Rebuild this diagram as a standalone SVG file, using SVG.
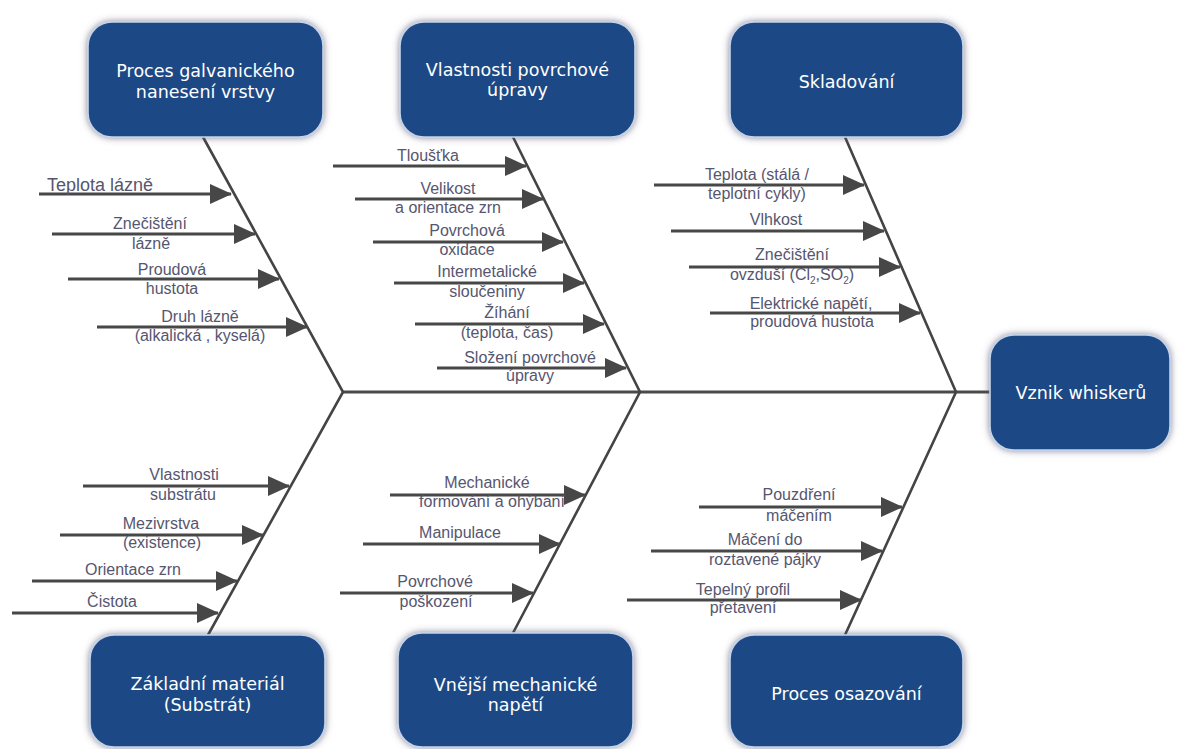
<svg xmlns="http://www.w3.org/2000/svg" width="1186" height="749" viewBox="0 0 1186 749">
<defs>
<style>
.box{fill:#1f4a85;stroke:#c2d3ea;stroke-width:1.6;filter:url(#sh)}
.bt{font-family:"DejaVu Sans",Verdana,sans-serif;font-size:17.5px;fill:#ffffff;text-anchor:middle}
.lbl{font-family:"Liberation Sans",Arial,sans-serif;font-size:16px;fill:#56566f;text-anchor:middle}
.big{font-size:18px;text-anchor:start}
.bone{stroke:#444444;stroke-width:2.6;fill:none}
.spine{stroke:#4a4a4a;stroke-width:3;fill:none}
.arr{stroke:#474747;stroke-width:3.2;fill:none;marker-end:url(#ah)}
</style>
<marker id="ah" viewBox="0 0 22 20" refX="21" refY="10" markerWidth="22" markerHeight="20" markerUnits="userSpaceOnUse" orient="auto">
<path d="M0,0 L22,10 L0,20 Z" fill="#474747"/>
</marker>
<filter id="sh" x="-20%" y="-20%" width="140%" height="140%">
<feGaussianBlur in="SourceAlpha" stdDeviation="3.5" result="b"/>
<feFlood flood-color="#5a5a78" flood-opacity="0.75"/>
<feComposite in2="b" operator="in" result="s"/>
<feMerge><feMergeNode in="s"/><feMergeNode in="SourceGraphic"/></feMerge>
</filter>
</defs>
<rect x="0" y="0" width="1186" height="749" fill="#ffffff"/>

<g id="connectors">
<line class="spine" x1="343" y1="392" x2="992" y2="392"/>
<path class="bone" d="M203,137 L343,392 L208,635"/>
<path class="bone" d="M513,137 L640,392 L513,633"/>
<path class="bone" d="M845,137 L956,392 L845,635"/>

<!-- rib 1 -->
<line class="arr" x1="39" y1="194" x2="231" y2="194"/>
<text class="lbl big" x="47" y="191">Teplota lázně</text>
<line class="arr" x1="52" y1="234" x2="255" y2="234"/>
<text class="lbl" x="150" y="229">Znečištění</text>
<text class="lbl" x="151" y="249">lázně</text>
<line class="arr" x1="68" y1="279" x2="279" y2="279"/>
<text class="lbl" x="172" y="275">Proudová</text>
<text class="lbl" x="172" y="294">hustota</text>
<line class="arr" x1="97" y1="327" x2="307" y2="327"/>
<text class="lbl" x="200" y="322">Druh lázně</text>
<text class="lbl" x="200" y="341">(alkalická , kyselá)</text>

<!-- rib 2 -->
<line class="arr" x1="333" y1="166" x2="526" y2="166"/>
<text class="lbl" x="428" y="161">Tloušťka</text>
<line class="arr" x1="355" y1="199" x2="543" y2="199"/>
<text class="lbl" x="448" y="194">Velikost</text>
<text class="lbl" x="448" y="213">a orientace zrn</text>
<line class="arr" x1="373" y1="242" x2="563" y2="242"/>
<text class="lbl" x="467" y="236">Povrchová</text>
<text class="lbl" x="467" y="255">oxidace</text>
<line class="arr" x1="394" y1="283" x2="584" y2="283"/>
<text class="lbl" x="487" y="277">Intermetalické</text>
<text class="lbl" x="487" y="297">sloučeniny</text>
<line class="arr" x1="415" y1="324" x2="604" y2="324"/>
<text class="lbl" x="507" y="318">Žíhání</text>
<text class="lbl" x="507" y="338">(teplota, čas)</text>
<line class="arr" x1="437" y1="368" x2="626" y2="368"/>
<text class="lbl" x="530" y="363">Složení povrchové</text>
<text class="lbl" x="530" y="381">úpravy</text>

<!-- rib 3 -->
<line class="arr" x1="654" y1="185" x2="864" y2="185"/>
<text class="lbl" x="757" y="180">Teplota (stálá /</text>
<text class="lbl" x="757" y="199">teplotní cykly)</text>
<line class="arr" x1="671" y1="231" x2="884" y2="231"/>
<text class="lbl" x="776" y="225">Vlhkost</text>
<line class="arr" x1="689" y1="267" x2="900" y2="267"/>
<text class="lbl" x="792" y="260">Znečištění</text>
<text class="lbl" x="792" y="280">ovzduší (Cl<tspan font-size="10" dy="4">2</tspan><tspan dy="-4">,SO</tspan><tspan font-size="10" dy="4">2</tspan><tspan dy="-4">)</tspan></text>
<line class="arr" x1="710" y1="313" x2="920" y2="313"/>
<text class="lbl" x="811" y="309">Elektrické napětí,</text>
<text class="lbl" x="812" y="327">proudová hustota</text>

<!-- rib 4 -->
<line class="arr" x1="83" y1="486" x2="289" y2="486"/>
<text class="lbl" x="184" y="480">Vlastnosti</text>
<text class="lbl" x="183" y="500">substrátu</text>
<line class="arr" x1="60" y1="535" x2="263" y2="535"/>
<text class="lbl" x="161" y="529">Mezivrstva</text>
<text class="lbl" x="162" y="548">(existence)</text>
<line class="arr" x1="32" y1="581" x2="237" y2="581"/>
<text class="lbl" x="133" y="575">Orientace zrn</text>
<line class="arr" x1="12" y1="613" x2="218" y2="613"/>
<text class="lbl" x="112" y="607">Čistota</text>

<!-- rib 5 -->
<line class="arr" x1="390" y1="495" x2="585" y2="495"/>
<text class="lbl" x="487" y="488">Mechanické</text>
<text class="lbl" x="492" y="507">formování a ohýbaní</text>
<line class="arr" x1="363" y1="544" x2="560" y2="544"/>
<text class="lbl" x="460" y="538">Manipulace</text>
<line class="arr" x1="340" y1="593" x2="533" y2="593"/>
<text class="lbl" x="435" y="587">Povrchové</text>
<text class="lbl" x="436" y="607">poškození</text>

<!-- rib 6 -->
<line class="arr" x1="699" y1="507" x2="902" y2="507"/>
<text class="lbl" x="799" y="500">Pouzdření</text>
<text class="lbl" x="799" y="521">máčením</text>
<line class="arr" x1="651" y1="551" x2="882" y2="551"/>
<text class="lbl" x="765" y="545">Máčení do</text>
<text class="lbl" x="765" y="565">roztavené  pájky</text>
<line class="arr" x1="627" y1="600" x2="861" y2="600"/>
<text class="lbl" x="743" y="595">Tepelný profil</text>
<text class="lbl" x="743" y="613">přetavení</text>
</g>

<g id="node-galvanic">
<rect class="box" x="88" y="22" width="235" height="115" rx="24"/>
<text class="bt" x="205.5" y="77">Proces galvanického</text>
<text class="bt" x="205.5" y="98">nanesení vrstvy</text>
</g>
<g id="node-surface">
<rect class="box" x="400" y="22" width="235" height="115" rx="24"/>
<text class="bt" x="517.5" y="76">Vlastnosti povrchové</text>
<text class="bt" x="517.5" y="96">úpravy</text>
</g>
<g id="node-storage">
<rect class="box" x="730" y="22" width="233" height="115" rx="24"/>
<text class="bt" x="846.5" y="88">Skladování</text>
</g>
<g id="node-effect">
<rect class="box" x="990" y="335" width="180" height="115" rx="24"/>
<text class="bt" x="1081" y="399">Vznik whiskerů</text>
</g>
<g id="node-substrate">
<rect class="box" x="90" y="635" width="235" height="112" rx="24"/>
<text class="bt" x="207.5" y="690">Základní materiál</text>
<text class="bt" x="207.5" y="711">(Substrát)</text>
</g>
<g id="node-mechanical">
<rect class="box" x="398" y="633" width="235" height="114" rx="24"/>
<text class="bt" x="515.5" y="691">Vnější mechanické</text>
<text class="bt" x="515.5" y="711">napětí</text>
</g>
<g id="node-assembly">
<rect class="box" x="730" y="635" width="233" height="112" rx="24"/>
<text class="bt" x="846.5" y="700">Proces osazování</text>
</g>
</svg>
